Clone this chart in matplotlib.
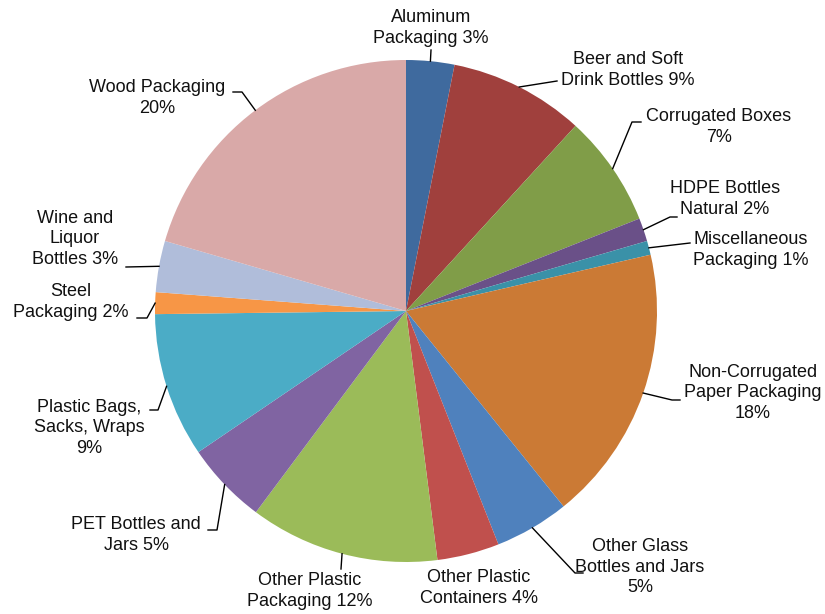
import matplotlib
matplotlib.use("Agg")
import matplotlib.pyplot as plt
import numpy as np

plt.rcParams['font.family'] = ['Liberation Sans', 'DejaVu Sans']

categories = ["Aluminum\nPackaging 3%", "Beer and Soft\nDrink Bottles 9%", "Corrugated Boxes\n7%",
              "HDPE Bottles\nNatural 2%", "Miscellaneous\nPackaging 1%",
              "Non-Corrugated\nPaper Packaging\n18%", "Other Glass\nBottles and Jars\n5%",
              "Other Plastic\nContainers 4%", "Other Plastic\nPackaging 12%",
              "PET Bottles and\nJars 5%", "Plastic Bags,\nSacks, Wraps\n9%",
              "Steel\nPackaging 2%", "Wine and\nLiquor\nBottles 3%", "Wood Packaging\n20%"]
shares = [3.1, 8.7, 7.2, 1.5, 0.9, 17.8, 4.8, 4.0, 12.2, 5.3, 9.3, 1.4, 3.3, 20.5]
colors = ["#3F6A9E", "#A0403D", "#809D48", "#6A5088", "#3A91A8", "#CB7A35", "#4F81BD",
          "#C0504D", "#9BBB59", "#8064A2", "#4BACC6", "#F79646", "#B0BDDA", "#D9A9A8"]

# layout in pixels of the 825x614 image: pie centre, radius
CX, CY, R = 406, 311, 251
W, H = 825, 614

def px(x, y):
    return ((x - CX) / R, (CY - y) / R)

# text centre and leader-line bend points (pixels)
label_pos = [(431, 28), (628, 70), (719, 127), (725, 199), (751, 250), (753, 393),
             (640, 567), (479, 588), (310, 591), (136, 535), (89, 428), (71, 302),
             (75, 239), (157, 98)]
leaders = [[(431, 50)], [(557, 81)], [(632, 122), (641, 122)], [(670, 217), (677, 217)],
           [(690, 243)], [(672, 400), (680, 400)], [(575, 573), (583, 573)], [],
           [(341, 569)], [(217, 530), (208, 530)], [(158, 410), (150, 410)],
           [(147, 318), (137, 318)], [(126, 267)], [(242, 92), (233, 92)]]

fig = plt.figure(figsize=(W / 100, H / 100), dpi=100)
ax = fig.add_axes([0, 0, 1, 1])
wedges, _ = ax.pie(shares, colors=colors, startangle=90, counterclock=False,
                   radius=1, center=(0, 0), wedgeprops=dict(linewidth=0))
ax.set_xlim(-CX / R, (W - CX) / R)
ax.set_ylim((CY - H) / R, CY / R)
ax.set_aspect('equal')
ax.axis('off')

for w, lab, pos, pts in zip(wedges, categories, label_pos, leaders):
    ang = np.deg2rad((w.theta1 + w.theta2) / 2)
    if pts:
        xs = [np.cos(ang)] + [px(*p)[0] for p in pts]
        ys = [np.sin(ang)] + [px(*p)[1] for p in pts]
        ax.plot(xs, ys, color='black', linewidth=1.0)
    tx, ty = px(*pos)
    ax.text(tx, ty, lab, ha='center', va='center', fontsize=13, linespacing=1.3,
            color='#111111')

fig.savefig("out.png", dpi=100)
